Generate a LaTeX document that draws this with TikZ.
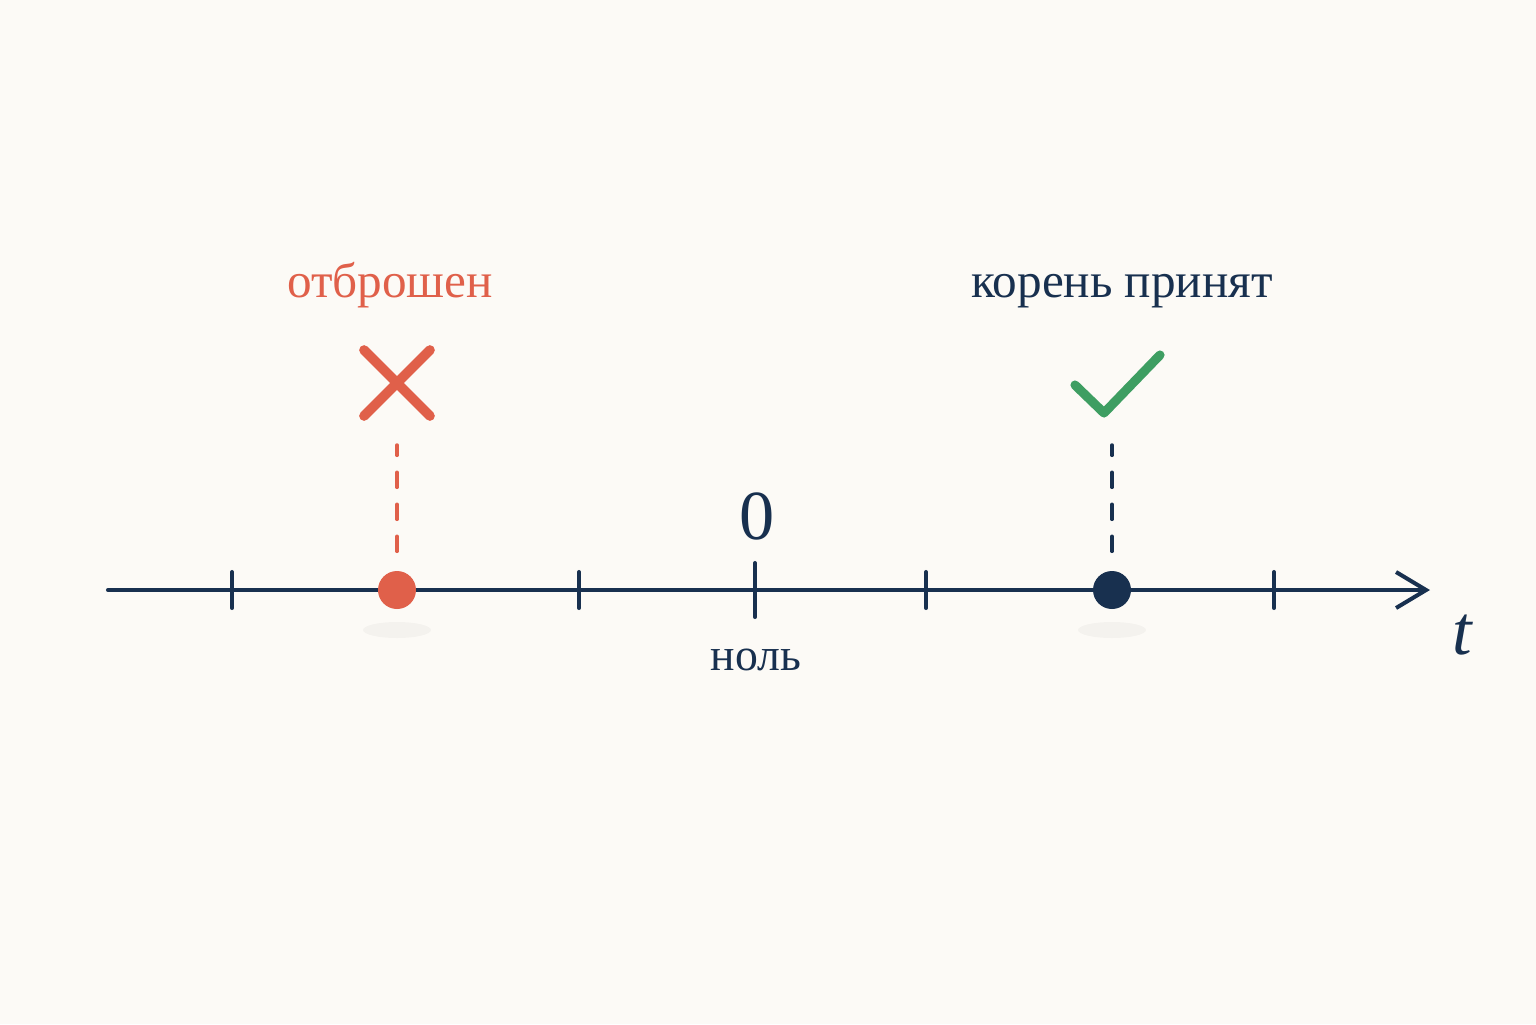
\documentclass[tikz,border=0pt]{standalone}
\usepackage{fontspec}
\setmainfont{Liberation Serif}
\usetikzlibrary{arrows.meta, shapes.misc}
\definecolor{paper}{HTML}{FCFAF6}
\definecolor{navy}{HTML}{18304F}
\definecolor{rejred}{HTML}{E0604A}
\definecolor{okgreen}{HTML}{3E9E62}
\begin{document}
\begin{tikzpicture}[line cap=round,
        axis line/.style={navy, line width=1.15pt},
        tick mark/.style={navy, line width=1.15pt},
        drop line/.style={dash pattern=on 0.15cm off 0.17cm, line width=1pt, shorten <=0.19cm},
        root dot/.style={circle, minimum size=0.38cm, inner sep=0pt},
        sign text/.style={font=\fontsize{14}{17}\selectfont, anchor=base}]
    % paper and frame
    \fill[paper] (-7.55,-4.34) rectangle (7.81,5.90);
    \useasboundingbox (-7.55,-4.34) rectangle (7.81,5.90);
    % axis
    \coordinate (start) at (-6.47,0);
    \coordinate (end) at (6.75,0);
    \draw[axis line, -{Straight Barb[length=0.3cm, width=0.36cm]}] (start) -- (end);
    \foreach \x in {-5.23,-1.76,1.71,5.19}
        \draw[tick mark] (\x,-0.18) -- (\x,0.18);
    \draw[tick mark] (0,-0.27) -- (0,0.27);
    \node[navy, font=\fontsize{20}{24}\selectfont] (zero) at (0.02,0.74) {0};
    \node[navy, font=\fontsize{13}{16}\selectfont] (nul) at (0.01,-0.70) {ноль};
    \node[navy, font=\fontsize{20}{24}\selectfont\itshape] (t) at (7.07,-0.45) {t};
    % shadows
    \fill[black, opacity=0.03] (-3.58,-0.40) ellipse (0.34 and 0.08);
    \fill[black, opacity=0.03] (3.57,-0.40) ellipse (0.34 and 0.08);
    % rejected root
    \node[root dot, fill=rejred] (rej) at (-3.58,0) {};
    \coordinate (rej top) at (-3.58,1.45);
    \draw[drop line, rejred] (rej) -- (rej top);
    \node[cross out, draw=rejred, line width=2.8pt, minimum size=0.56cm, inner sep=0pt] (cross) at (-3.58,2.07) {};
    \node[sign text, rejred] (rejlabel) at (-3.65,2.93) {отброшен};
    % accepted root
    \node[root dot, fill=navy] (acc) at (3.57,0) {};
    \coordinate (acc top) at (3.57,1.45);
    \draw[drop line, navy] (acc) -- (acc top);
    \coordinate (check) at (3.49,1.77);
    \draw[okgreen, line width=2.6pt, line join=round] (3.20,2.05) -- (check) -- (4.05,2.35);
    \node[sign text, navy] (acclabel) at (3.67,2.93) {корень принят};
\end{tikzpicture}
\end{document}
